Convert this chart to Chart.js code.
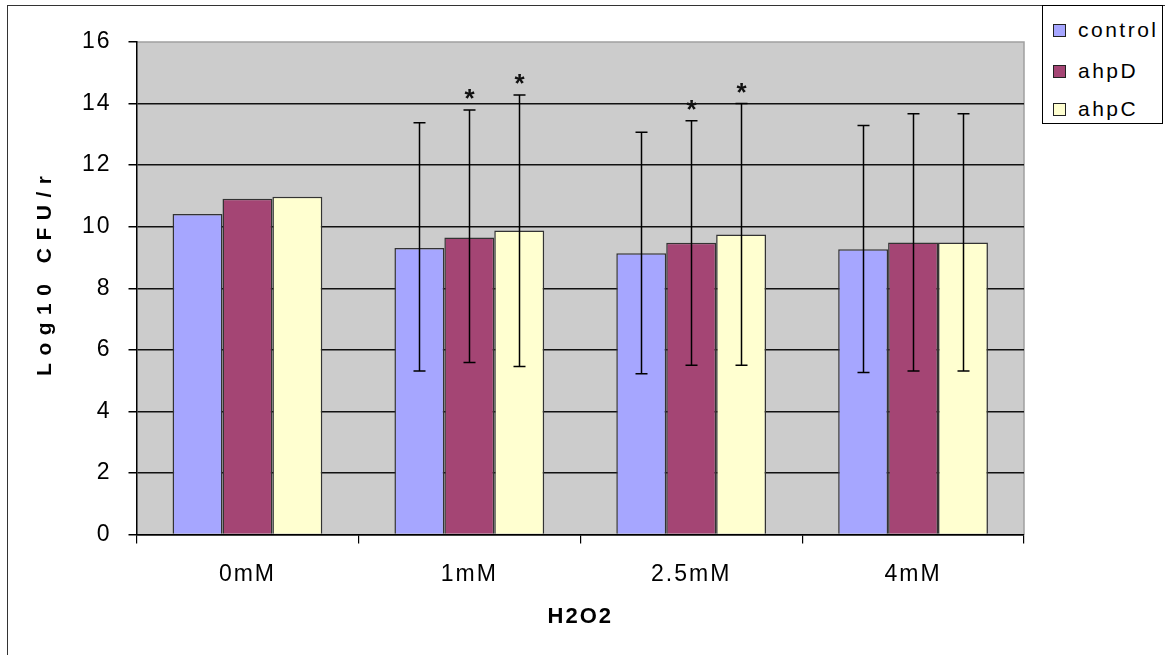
<!DOCTYPE html>
<html>
<head>
<meta charset="utf-8">
<script src="https://cdn.jsdelivr.net/npm/chart.js@4.4.1/dist/chart.umd.min.js"></script>
<style>
  body { margin: 0; padding: 0; background: #fff; overflow: hidden; font-family: "Liberation Sans", Arial, sans-serif; }
  #wrap { position: relative; width: 1165px; height: 655px; }
  #frame { position: absolute; left: 7px; top: 5px; width: 1300px; height: 800px; border: 1.5px solid #333; }
  #chart-box { position: absolute; left: 0; top: 0; width: 1165px; height: 655px; }
  #legend { position: absolute; left: 1042px; top: 5px; width: 121px; height: 119px; border: 1.5px solid #000; background: #fff; box-sizing: border-box; }
  .lg-item { position: absolute; left: 10px; height: 24px; display: flex; align-items: center; font-size: 21px; letter-spacing: 2.5px; color: #000; }
  .lg-sw { width: 11px; height: 11px; border: 1px solid #222; margin-right: 12px; }
</style>
</head>
<body>
<div id="wrap">
  <div id="frame"></div>
  <div id="chart-box"><canvas id="c"></canvas></div>
  <div id="legend"></div>
</div>
<script>
// ── Data ──────────────────────────────────────────────────────────────
const categories = ['0mM', '1mM', '2.5mM', '4mM'];
const seriesNames = ['control', 'ahpD', 'ahpC'];

const controlVals = [10.41, 9.31, 9.14, 9.27];
const ahpDVals    = [10.91, 9.65, 9.48, 9.49];
const ahpCVals    = [10.97, 9.88, 9.75, 9.49];

// error bar ends (no bars on 0mM)
const controlHi = [null, 13.38, 13.07, 13.29];
const controlLo = [null, 5.31, 5.22, 5.26];
const ahpDHi    = [null, 13.79, 13.44, 13.67];
const ahpDLo    = [null, 5.59, 5.50, 5.31];
const ahpCHi    = [null, 14.28, 14.00, 13.67];
const ahpCLo    = [null, 5.46, 5.50, 5.31];

// significance marks
const controlStar = [false, false, false, false];
const ahpDStar    = [false, true, true, false];
const ahpCStar    = [false, true, true, false];

const colors = ['#a6a6ff', '#a44574', '#ffffd0'];

// ── Legend (html box, top right) ───────────────────────────────────────
const legend = document.getElementById('legend');
const legendTops = [12, 53, 91];
seriesNames.forEach((name, i) => {
    const it = document.createElement('div');
    it.className = 'lg-item';
    it.style.top = legendTops[i] + 'px';
    it.innerHTML = `<span class="lg-sw" style="background:${colors[i]}"></span>${name}`;
    legend.appendChild(it);
});

// ── Plugins ───────────────────────────────────────────────────────────
const SPACING = '2px';

const plotBg = {
    id: 'plotBg',
    beforeLayout(chart) { chart.ctx.letterSpacing = SPACING; },
    beforeDraw(chart) {
        const { ctx, chartArea: a } = chart;
        ctx.save();
        ctx.fillStyle = '#cccccc';
        ctx.fillRect(a.left, a.top, a.right - a.left, a.bottom - a.top);
        ctx.strokeStyle = '#a0a0a0';
        ctx.lineWidth = 1.5;
        ctx.beginPath();
        ctx.moveTo(a.left, a.top);
        ctx.lineTo(a.right, a.top);
        ctx.lineTo(a.right, a.bottom);
        ctx.stroke();
        ctx.restore();
        ctx.letterSpacing = SPACING;
    }
};

const errorBars = {
    id: 'errorBars',
    afterDatasetsDraw(chart) {
        const { ctx } = chart;
        const y = chart.scales.y;
        const his = [controlHi, ahpDHi, ahpCHi];
        const los = [controlLo, ahpDLo, ahpCLo];
        const stars = [controlStar, ahpDStar, ahpCStar];
        ctx.save();
        ctx.strokeStyle = '#000';
        ctx.lineWidth = 1.5;
        chart.data.datasets.forEach((ds, di) => {
            const meta = chart.getDatasetMeta(di);
            meta.data.forEach((bar, i) => {
                const hi = his[di][i], lo = los[di][i];
                if (hi == null) return;
                const x = Math.round(bar.x) + 0.5;
                const yh = y.getPixelForValue(hi), yl = y.getPixelForValue(lo);
                ctx.beginPath();
                ctx.moveTo(x, yh); ctx.lineTo(x, yl);
                ctx.moveTo(x - 6, yh); ctx.lineTo(x + 6, yh);
                ctx.moveTo(x - 6, yl); ctx.lineTo(x + 6, yl);
                ctx.stroke();
                if (stars[di][i]) {
                    ctx.fillStyle = '#111';
                    ctx.font = 'bold 26px "Liberation Sans", Arial, sans-serif';
                    ctx.letterSpacing = '0px';
                    ctx.textAlign = 'center';
                    ctx.textBaseline = 'middle';
                    ctx.fillText('*', x, yh - 10);
                }
            });
        });
        ctx.restore();
        ctx.letterSpacing = SPACING;
    }
};

// ── Chart ─────────────────────────────────────────────────────────────
Chart.defaults.font.family = '"Liberation Sans", Arial, sans-serif';
Chart.defaults.color = '#000';

const valueSets = [controlVals, ahpDVals, ahpCVals];

const chart = new Chart(document.getElementById('c'), {
    type: 'bar',
    data: {
        labels: categories,
        datasets: seriesNames.map((name, i) => ({
            label: name,
            data: valueSets[i],
            backgroundColor: colors[i],
            borderColor: '#333',
            borderWidth: 1.5,
            categoryPercentage: 0.675,
            barPercentage: 1.0
        }))
    },
    options: {
        responsive: true,
        maintainAspectRatio: false,
        animation: false,
        layout: { padding: { left: 0, top: 42, right: 141, bottom: 0 } },
        plugins: {
            legend: { display: false },
            tooltip: { enabled: false }
        },
        scales: {
            x: {
                afterFit: s => { s.height = 120.5; },
                grid: {
                    display: true, drawOnChartArea: false, offset: true,
                    tickLength: 9, color: '#000', lineWidth: 1.2
                },
                border: { color: '#000', width: 1.5 },
                ticks: { font: { size: 23 }, color: '#000', padding: 17 },
                title: {
                    display: true, text: 'H2O2',
                    font: { size: 22, weight: 'bold' }, color: '#000',
                    padding: { top: 0, bottom: 25 }
                }
            },
            y: {
                min: 0, max: 16,
                afterFit: s => { s.width = 136.5; },
                grid: {
                    color: c => (c.tick && c.tick.value === 16) ? 'rgba(0,0,0,0)' : '#111',
                    tickColor: '#000',
                    lineWidth: 1.5, tickLength: 8
                },
                border: { color: '#000', width: 1.5 },
                ticks: { stepSize: 2, font: { size: 23 }, color: '#000', padding: 17 },
                title: {
                    display: true, text: 'Log10 CFU/r',
                    font: { size: 21, weight: 'bold' }, color: '#000',
                    padding: { top: 33, bottom: 0 }
                }
            }
        }
    },
    plugins: [plotBg, errorBars]
});

// wider letter spacing for the vertical title, nudged up a little
const yScale = chart.scales.y;
const drawTitle0 = yScale.drawTitle.bind(yScale);
yScale.drawTitle = function () {
    const ctx = this.ctx;
    ctx.save();
    ctx.letterSpacing = '7.5px';
    ctx.translate(0, -16);
    drawTitle0();
    ctx.restore();
    ctx.letterSpacing = SPACING;
};
chart.draw();
</script>
</body>
</html>
